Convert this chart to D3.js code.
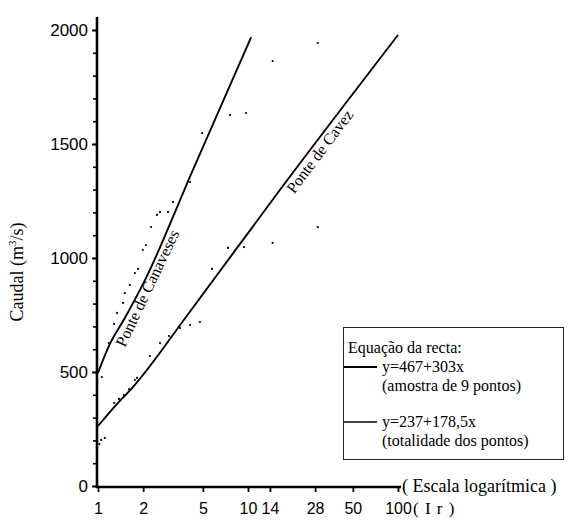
<!DOCTYPE html>
<html>
<head>
<meta charset="utf-8">
<script src="https://cdn.jsdelivr.net/npm/d3@7"></script>
<style>
  body { margin: 0; background: #fff; }
  svg { display: block; }
  .serif { font-family: "Liberation Serif", "Times New Roman", serif; }
  .sans  { font-family: "Liberation Sans", Arial, sans-serif; }
</style>
</head>
<body>
<div id="chart"></div>
<script>
// ─── data ────────────────────────────────────────────────────────────
const irTicks = [1, 2, 5, 10, 14, 28, 50, 100];
const qTicks = [0, 500, 1000, 1500, 2000];
const qMinorTicks = d3.range(0, 2001, 100);

// observed points, Ponte de Canaveses
const canIr = [1.06, 1.18, 1.28, 1.34, 1.47, 1.51, 1.63, 1.76, 1.85, 1.99, 2.09, 2.26, 2.47, 2.59, 2.93, 3.16, 4.11, 4.94, 7.59, 9.70, 14.6, 29.2];
const canQ  = [478, 627, 711, 759, 803, 846, 882, 934, 952, 1035, 1057, 1136, 1189, 1202, 1202, 1246, 1333, 1548, 1627, 1636, 1864, 1943];

// observed points, Ponte de Cavez
const cavIr = [1.02, 1.05, 1.11, 1.28, 1.38, 1.49, 1.61, 1.76, 1.82, 2.22, 2.59, 2.97, 3.52, 4.11, 4.78, 5.75, 7.36, 9.40, 14.6, 29.2];
const cavQ  = [184, 202, 211, 364, 382, 399, 425, 465, 474, 570, 627, 658, 693, 706, 719, 952, 1044, 1048, 1066, 1135];

// fitted lines (as drawn)
const canLineIr = [1, 1.2, 1.51, 2.06, 4.23, 10.5];
const canLineQ  = [496, 623, 737, 904, 1377, 1969];
const cavLineIr = [1, 1.34, 1.71, 4.04, 16.3, 100];
const cavLineQ  = [263, 360, 434, 759, 1298, 1978];

const legendLines = [
  ['y=467+303x', '(amostra de 9 pontos)'],
  ['y=237+178,5x', '(totalidade dos pontos)']
];

// ─── scaffold ────────────────────────────────────────────────────────
const W = 569, H = 526;
const svg = d3.select('#chart').append('svg')
  .attr('width', W).attr('height', H);

const x = d3.scaleLog().domain([1, 100]).range([98, 398]);
const y = d3.scaleLinear().domain([0, 2000]).range([486, 30]);

const zip = (a, b) => a.map((v, i) => ({ ir: v, q: b[i] }));

// ─── axes ────────────────────────────────────────────────────────────
const yMinor = svg.append('g')
  .attr('transform', `translate(${x(1) - 1},0)`)
  .call(d3.axisLeft(y).tickValues(qMinorTicks).tickSize(4).tickFormat(''));
yMinor.select('.domain').remove();
yMinor.selectAll('line').attr('stroke-width', 1.6);

const yAxis = svg.append('g')
  .attr('class', 'sans')
  .attr('transform', `translate(${x(1) - 1},0)`)
  .call(d3.axisLeft(y).tickValues(qTicks).tickSize(5).tickPadding(4).tickFormat(d3.format('d')));
yAxis.select('.domain').remove();
yAxis.selectAll('line').attr('stroke-width', 1.8);
yAxis.selectAll('text').attr('font-size', 17).attr('fill', '#000');

const xAxis = svg.append('g')
  .attr('class', 'sans')
  .attr('transform', `translate(0,${y(0) + 1})`)
  .call(d3.axisBottom(x).tickValues(irTicks).tickSize(5).tickPadding(11).tickFormat(d3.format('d')));
xAxis.select('.domain').remove();
xAxis.selectAll('line').attr('stroke-width', 1.8);
xAxis.selectAll('text').attr('font-size', 16).attr('fill', '#000');

// axis lines
svg.append('line')
  .attr('x1', x(1) - 1).attr('x2', x(1) - 1)
  .attr('y1', 17).attr('y2', y(0) + 2)
  .attr('stroke', '#000').attr('stroke-width', 2.6);
svg.append('line')
  .attr('x1', x(1) - 2).attr('x2', x(100) + 3)
  .attr('y1', y(0) + 1).attr('y2', y(0) + 1)
  .attr('stroke', '#000').attr('stroke-width', 2.6);

svg.append('text')
  .attr('class', 'serif')
  .attr('x', 402).attr('y', y(0) + 6)
  .attr('font-size', 18)
  .text('( Escala logarítmica )');

svg.append('text')
  .attr('class', 'serif')
  .attr('x', x(100) + 15).attr('y', 514)
  .attr('font-size', 17)
  .attr('letter-spacing', 1)
  .text('( I r )');

svg.append('text')
  .attr('class', 'serif')
  .attr('transform', 'translate(23,272) rotate(-90)')
  .attr('text-anchor', 'middle')
  .attr('font-size', 18)
  .html('Caudal (m<tspan font-size="11" dy="-7">3</tspan><tspan dy="7">/s)</tspan>');

// ─── lines ───────────────────────────────────────────────────────────
const line = d3.line()
  .x(d => x(d.ir)).y(d => y(d.q))
  .curve(d3.curveMonotoneX);

const canLine = zip(canLineIr, canLineQ);
const cavLine = zip(cavLineIr, cavLineQ);

[canLine, cavLine].forEach(data => {
  svg.append('path')
    .datum(data)
    .attr('fill', 'none')
    .attr('stroke', '#000')
    .attr('stroke-width', 1.9)
    .attr('d', line);
});

// ─── points ──────────────────────────────────────────────────────────
svg.append('g')
  .selectAll('circle')
  .data(zip(canIr, canQ).concat(zip(cavIr, cavQ)))
  .join('circle')
    .attr('cx', d => x(d.ir))
    .attr('cy', d => y(d.q))
    .attr('r', 1.1)
    .attr('fill', '#000');

// ─── line labels ─────────────────────────────────────────────────────
function angleOf(data, i, j) {
  const dx = x(data[j].ir) - x(data[i].ir);
  const dy = y(data[j].q) - y(data[i].q);
  return Math.atan2(dy, dx) * 180 / Math.PI;
}
function pointAt(data, ir) {
  const xs = data.map(d => Math.log(d.ir));
  const k = Math.max(1, d3.bisectLeft(xs, Math.log(ir)));
  const t = (Math.log(ir) - xs[k - 1]) / (xs[k] - xs[k - 1]);
  return [x(ir), y(data[k - 1].q + t * (data[k].q - data[k - 1].q))];
}

const labels = [
  { data: canLine, ir: 1.227, a: angleOf(canLine, 1, 4), dy: 15, text: 'Ponte de Canaveses' },
  { data: cavLine, ir: 17.1, a: angleOf(cavLine, 3, 5), dy: 14, text: 'Ponte de Cavez' }
];
labels.forEach(l => {
  const [px, py] = pointAt(l.data, l.ir);
  svg.append('text')
    .attr('class', 'serif')
    .attr('transform', `translate(${px},${py}) rotate(${l.a})`)
    .attr('dy', l.dy)
    .attr('font-size', 16)
    .text(l.text);
});

// ─── legend ──────────────────────────────────────────────────────────
const lg = svg.append('g').attr('class', 'serif');
lg.append('rect')
  .attr('x', 343.5).attr('y', 327.5)
  .attr('width', 220).attr('height', 132)
  .attr('fill', '#fff')
  .attr('stroke', '#222').attr('stroke-width', 1);
lg.append('text')
  .attr('x', 348).attr('y', 353)
  .attr('font-size', 16)
  .text('Equação da recta:');

legendLines.forEach((t, i) => {
  const yy = 367 + i * 55;
  lg.append('line')
    .attr('x1', 344).attr('x2', 377)
    .attr('y1', yy).attr('y2', yy)
    .attr('stroke', '#000').attr('stroke-width', i === 0 ? 2 : 1.6);
  lg.append('text')
    .attr('x', 382).attr('y', yy + 5)
    .attr('font-size', 16)
    .text(t[0]);
  lg.append('text')
    .attr('x', 382).attr('y', yy + 24)
    .attr('font-size', 16)
    .text(t[1]);
});
</script>
</body>
</html>
